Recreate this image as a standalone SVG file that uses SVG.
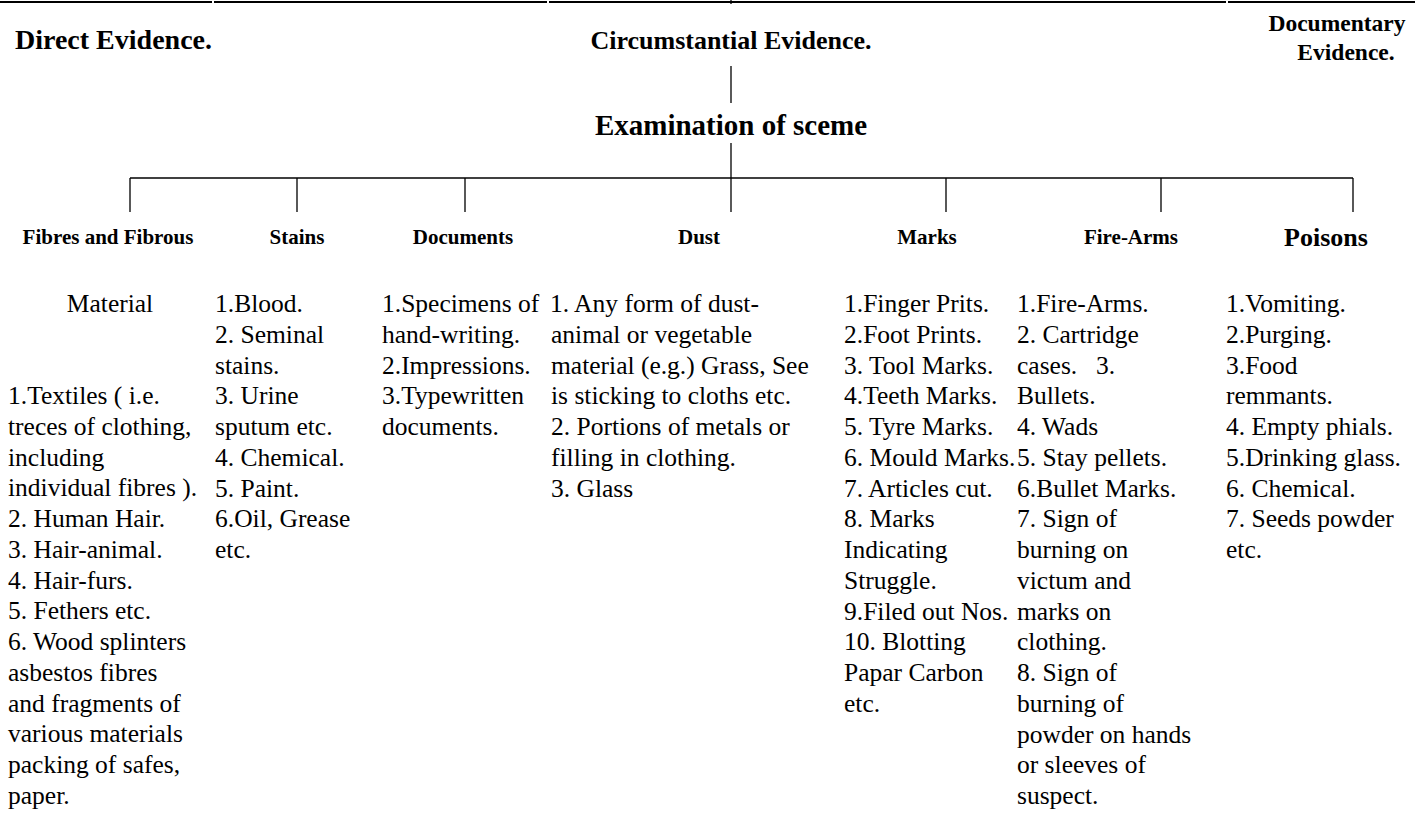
<svg xmlns="http://www.w3.org/2000/svg" width="1415" height="814" viewBox="0 0 1415 814">
<style>
text{font-family:'Liberation Serif','Times New Roman',Tinos,'Nimbus Roman','DejaVu Serif',serif;fill:#000}
.h{font-weight:bold;font-size:26px}
.s{font-weight:bold;font-size:21px}
.b{font-size:25.5px}
.ln{stroke:#000;stroke-width:1.3;fill:none}
.top{stroke:#000;stroke-width:2.2;fill:none}
</style>
<rect width="1415" height="814" fill="#fff"/>
<g id="frame">
<path class="top" d="M0 2H212M214 2H547M549 2H1226M1228 2H1415"/>
<path class="ln" d="M731 0V4"/>
</g>
<g id="connectors">
<path class="ln" d="M731 66V103"/>
<path class="ln" d="M731 143V212"/>
<path class="ln" d="M130 178H1353"/>
<path class="ln" d="M130 178V212M297 178V212M465 178V212M946 178V212M1161 178V212M1353 178V212"/>
</g>
<g id="direct"><text class="h" x="15" y="49" style="font-size:28px">Direct Evidence.</text></g>
<g id="circumstantial"><text class="h" x="731" y="49" text-anchor="middle">Circumstantial Evidence.</text></g>
<g id="documentary"><text class="h" x="1337" y="31" text-anchor="middle" style="font-size:23.5px">Documentary</text><text class="h" x="1346" y="60" text-anchor="middle" style="font-size:23.5px">Evidence.</text></g>
<g id="examination"><text class="h" x="731" y="135" text-anchor="middle" style="font-size:29px">Examination of sceme</text></g>
<g id="fibres">
<text class="s" x="108" y="244" text-anchor="middle">Fibres and Fibrous</text>
<text class="b" x="110" y="312" text-anchor="middle">Material</text>
<text class="b" x="8" y="404"><tspan x="8">1.Textiles ( i.e.</tspan><tspan x="8" dy="30.75">treces of clothing,</tspan><tspan x="8" dy="30.75">including</tspan><tspan x="8" dy="30.75">individual fibres ).</tspan><tspan x="8" dy="30.75">2. Human Hair.</tspan><tspan x="8" dy="30.75">3. Hair-animal.</tspan><tspan x="8" dy="30.75">4. Hair-furs.</tspan><tspan x="8" dy="30.75">5. Fethers etc.</tspan><tspan x="8" dy="30.75">6. Wood splinters</tspan><tspan x="8" dy="30.75">asbestos fibres</tspan><tspan x="8" dy="30.75">and fragments of</tspan><tspan x="8" dy="30.75">various materials</tspan><tspan x="8" dy="30.75">packing of safes,</tspan><tspan x="8" dy="30.75">paper.</tspan></text>
</g>
<g id="stains">
<text class="s" x="297" y="244" text-anchor="middle">Stains</text>
<text class="b" x="215" y="312"><tspan x="215">1.Blood.</tspan><tspan x="215" dy="30.75">2. Seminal</tspan><tspan x="215" dy="30.75">stains.</tspan><tspan x="215" dy="30.75">3. Urine</tspan><tspan x="215" dy="30.75">sputum etc.</tspan><tspan x="215" dy="30.75">4. Chemical.</tspan><tspan x="215" dy="30.75">5. Paint.</tspan><tspan x="215" dy="30.75">6.Oil, Grease</tspan><tspan x="215" dy="30.75">etc.</tspan></text>
</g>
<g id="documents">
<text class="s" x="463" y="244" text-anchor="middle">Documents</text>
<text class="b" x="382" y="312"><tspan x="382">1.Specimens of</tspan><tspan x="382" dy="30.75">hand-writing.</tspan><tspan x="382" dy="30.75">2.Impressions.</tspan><tspan x="382" dy="30.75">3.Typewritten</tspan><tspan x="382" dy="30.75">documents.</tspan></text>
</g>
<g id="dust">
<text class="s" x="699" y="244" text-anchor="middle">Dust</text>
<text class="b" x="550" y="312"><tspan x="550">1. Any form of dust-</tspan><tspan x="551" dy="30.75">animal or vegetable</tspan><tspan x="551" dy="30.75">material (e.g.) Grass, See</tspan><tspan x="551" dy="30.75">is sticking to cloths etc.</tspan><tspan x="551" dy="30.75">2. Portions of metals or</tspan><tspan x="551" dy="30.75">filling in clothing.</tspan><tspan x="551" dy="30.75">3. Glass</tspan></text>
</g>
<g id="marks">
<text class="s" x="927" y="244" text-anchor="middle">Marks</text>
<text class="b" x="844" y="312"><tspan x="844">1.Finger Prits.</tspan><tspan x="844" dy="30.75">2.Foot Prints.</tspan><tspan x="844" dy="30.75">3. Tool Marks.</tspan><tspan x="844" dy="30.75">4.Teeth Marks.</tspan><tspan x="844" dy="30.75">5. Tyre Marks.</tspan><tspan x="844" dy="30.75">6. Mould Marks.</tspan><tspan x="844" dy="30.75">7. Articles cut.</tspan><tspan x="844" dy="30.75">8. Marks</tspan><tspan x="844" dy="30.75">Indicating</tspan><tspan x="844" dy="30.75">Struggle.</tspan><tspan x="844" dy="30.75">9.Filed out Nos.</tspan><tspan x="844" dy="30.75">10. Blotting</tspan><tspan x="844" dy="30.75">Papar Carbon</tspan><tspan x="844" dy="30.75">etc.</tspan></text>
</g>
<g id="firearms">
<text class="s" x="1131" y="244" text-anchor="middle">Fire-Arms</text>
<text class="b" x="1017" y="312"><tspan x="1017">1.Fire-Arms.</tspan><tspan x="1017" dy="30.75">2. Cartridge</tspan><tspan x="1017" dy="30.75">cases.</tspan><tspan x="1096">3.</tspan><tspan x="1017" dy="30.75">Bullets.</tspan><tspan x="1017" dy="30.75">4. Wads</tspan><tspan x="1017" dy="30.75">5. Stay pellets.</tspan><tspan x="1017" dy="30.75">6.Bullet Marks.</tspan><tspan x="1017" dy="30.75">7. Sign of</tspan><tspan x="1017" dy="30.75">burning on</tspan><tspan x="1017" dy="30.75">victum and</tspan><tspan x="1017" dy="30.75">marks on</tspan><tspan x="1017" dy="30.75">clothing.</tspan><tspan x="1017" dy="30.75">8. Sign of</tspan><tspan x="1017" dy="30.75">burning of</tspan><tspan x="1017" dy="30.75">powder on hands</tspan><tspan x="1017" dy="30.75">or sleeves of</tspan><tspan x="1017" dy="30.75">suspect.</tspan></text>
</g>
<g id="poisons">
<text class="h" x="1326" y="246" text-anchor="middle">Poisons</text>
<text class="b" x="1226" y="312"><tspan x="1226">1.Vomiting.</tspan><tspan x="1226" dy="30.75">2.Purging.</tspan><tspan x="1226" dy="30.75">3.Food</tspan><tspan x="1226" dy="30.75">remmants.</tspan><tspan x="1226" dy="30.75">4. Empty phials.</tspan><tspan x="1226" dy="30.75">5.Drinking glass.</tspan><tspan x="1226" dy="30.75">6. Chemical.</tspan><tspan x="1226" dy="30.75">7. Seeds powder</tspan><tspan x="1226" dy="30.75">etc.</tspan></text>
</g>
</svg>
